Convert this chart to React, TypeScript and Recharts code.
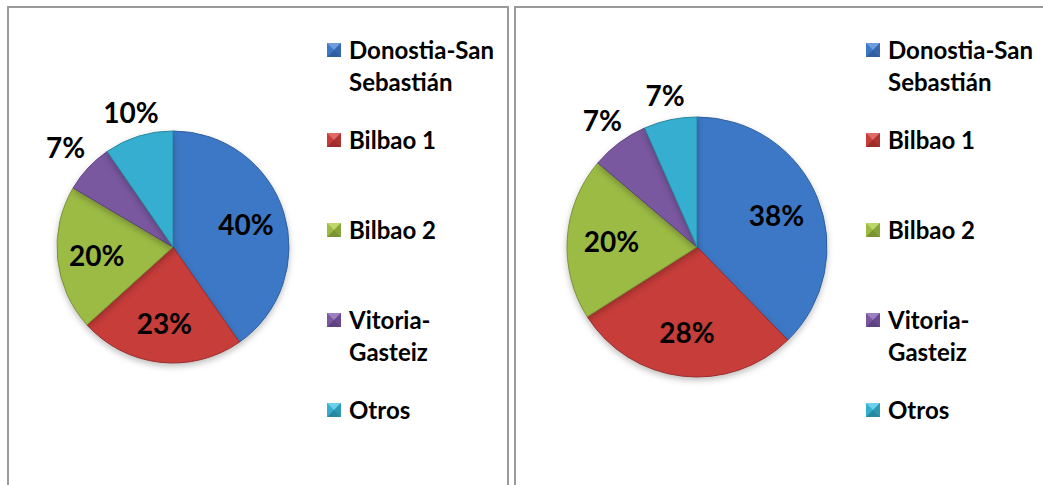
import React from "react";
import { PieChart, Pie, Cell, Legend } from "recharts";

const categories = [
  "Donostia-San Sebastián",
  "Bilbao 1",
  "Bilbao 2",
  "Vitoria-Gasteiz",
  "Otros",
];
const leftValues = [40.3, 23.0, 20.2, 6.9, 9.6];
const rightValues = [37.7, 28.3, 20.2, 7.2, 6.6];

const COLORS = ["#3d78c6", "#c63d3a", "#9cbb45", "#7a58a0", "#36aecf"];
const DARK = ["#2f5f9e", "#9c2d2b", "#7a9434", "#5d4180", "#28889f"];
const LIGHT = ["#6f9be0", "#e06a66", "#bcd86a", "#9d80c2", "#6cd0ea"];

const FONT = "Lato, 'Open Sans', sans-serif";

const toRows = (values: number[]) =>
  categories.map((name, i) => ({ name, value: values[i] }));

const RAD = Math.PI / 180;

function makeLabel(total: number) {
  return (props: any) => {
    const { cx, cy, midAngle, outerRadius, value } = props;
    const pct = Math.round((value / total) * 100);
    const text = `${pct}%`;
    const cos = Math.cos(-midAngle * RAD);
    const sin = Math.sin(-midAngle * RAD);
    let dist: number;
    if (value / total < 0.12) {
      // outside label: box edge sits a little past the rim
      const hw = text.length * 8.5;
      const hh = 13;
      const edge = Math.min(
        Math.abs(cos) > 0.01 ? hw / Math.abs(cos) : 999,
        Math.abs(sin) > 0.01 ? hh / Math.abs(sin) : 999
      );
      dist = outerRadius + 12 + edge;
    } else {
      dist = outerRadius * 0.66;
    }
    const x = cx + dist * cos;
    const y = cy + dist * sin;
    return (
      <text
        x={x}
        y={y}
        textAnchor="middle"
        dominantBaseline="central"
        fill="#000"
        fontFamily={FONT}
        fontWeight={700}
        fontSize={28}
      >
        {text}
      </text>
    );
  };
}

function LegendIcon({ i }: { i: number }) {
  return (
    <svg width={14} height={14} style={{ display: "block" }}>
      <rect x={0} y={0} width={14} height={14} fill={COLORS[i]} />
      <polygon points="0,0 14,0 7,7" fill={LIGHT[i]} />
      <polygon points="0,14 14,14 7,7" fill={DARK[i]} />
      <polygon points="14,0 14,14 7,7" fill={DARK[i]} opacity={0.6} />
    </svg>
  );
}

function LegendBox(props: any) {
  const payload = [...(props.payload || [])].sort(
    (a: any, b: any) => categories.indexOf(a.value) - categories.indexOf(b.value)
  );
  return (
    <div style={{ fontFamily: FONT }}>
      {payload.map((entry: any) => {
        const i = categories.indexOf(entry.value);
        return (
          <div
            key={entry.value}
            style={{ height: 90, display: "flex", alignItems: "flex-start" }}
          >
            <div style={{ marginTop: 9, width: 22 }}>
              <LegendIcon i={i} />
            </div>
            <div
              style={{
                width: 150,
                fontSize: 24,
                fontWeight: 700,
                lineHeight: "32px",
                color: "#000",
              }}
            >
              {entry.value}
            </div>
          </div>
        );
      })}
    </div>
  );
}

function PiePanel({
  values,
  cx,
  r,
  legendLeft,
  width,
}: {
  values: number[];
  cx: number;
  r: number;
  legendLeft: number;
  width: number;
}) {
  const rows = toRows(values);
  const total = values.reduce((a, b) => a + b, 0);
  return (
    <PieChart
      width={width}
      height={485}
      margin={{ top: 0, right: 0, bottom: 0, left: 0 }}
    >
      <Pie
        data={rows}
        dataKey="value"
        nameKey="name"
        cx={cx}
        cy={247}
        outerRadius={r}
        startAngle={90}
        endAngle={-270}
        label={makeLabel(total)}
        labelLine={false}
        isAnimationActive={false}
        style={{ filter: "drop-shadow(0px 3px 3px rgba(0,0,0,0.25))" }}
      >
        {rows.map((_, i) => (
          <Cell key={i} fill={COLORS[i]} stroke={DARK[i]} strokeWidth={1} />
        ))}
      </Pie>
      <Legend
        layout="vertical"
        align="right"
        verticalAlign="top"
        itemSorter={null as any}
        content={<LegendBox />}
        wrapperStyle={{ position: "absolute", left: legendLeft, top: 34, width: 175 }}
      />
    </PieChart>
  );
}

export default function App() {
  return (
    <div
      style={{
        position: "fixed",
        left: 0,
        top: 0,
        width: 1043,
        height: 485,
        background: "#fff",
        overflow: "hidden",
      }}
    >
      <div
        style={{
          position: "absolute",
          left: 7,
          top: 6,
          width: 502,
          height: 500,
          border: "2px solid #9a9a9a",
          boxSizing: "border-box",
        }}
      />
      <div
        style={{
          position: "absolute",
          left: 514,
          top: 6,
          width: 560,
          height: 500,
          border: "2px solid #9a9a9a",
          boxSizing: "border-box",
        }}
      />
      <div style={{ position: "absolute", left: 0, top: 0 }}>
        <PiePanel values={leftValues} cx={173} r={116} legendLeft={327} width={510} />
      </div>
      <div style={{ position: "absolute", left: 510, top: 0 }}>
        <PiePanel values={rightValues} cx={187} r={130} legendLeft={356} width={533} />
      </div>
    </div>
  );
}
